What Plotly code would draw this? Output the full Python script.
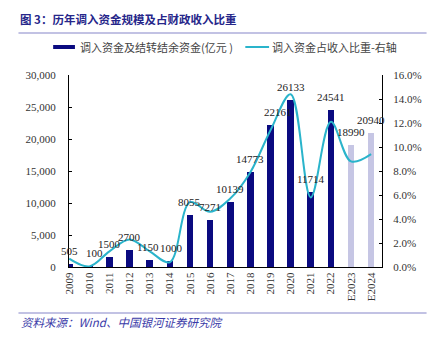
import plotly.graph_objects as go

# Transfer-in funds (100 million yuan) and share of fiscal revenue (%)
years = ["2009", "2010", "2011", "2012", "2013", "2014", "2015", "2016",
         "2017", "2018", "2019", "2020", "2021", "2022", "E2023", "E2024"]
funds = [505, 100, 1500, 2700, 1150, 1000, 8055, 7271,
         10139, 14773, 22161, 26133, 11714, 24541, 18990, 20940]
share = [0.7, 0.05, 1.3, 2.3, 1.3, 0.4, 5.4, 4.6,
         5.7, 7.9, 11.4, 14.4, 5.8, 12.1, 8.8, 9.4]

W, H = 434, 342
L, R, T, B = 69, 385, 75, 267  # plot area in pixels

NAVY = "#0a0a80"
LIGHT = "#c6c6e4"
CYAN = "#2ab4cb"
SERIF = "Liberation Serif, Times New Roman, serif"
CJK = "Noto Sans CJK SC, sans-serif"


def px_x(p):
    return (p - L) / (R - L)


def px_y(p):
    return (B - p) / (B - T)


bar_colors = [LIGHT if y.startswith("E") else NAVY for y in years]

fig = go.Figure()
fig.add_bar(x=years, y=funds, marker=dict(color=bar_colors, line_width=0),
            width=0.33, yaxis="y", showlegend=False)
fig.add_scatter(x=years, y=share, mode="lines", yaxis="y2", showlegend=False,
                line=dict(shape="spline", smoothing=1.0, color=CYAN, width=2))

annotations = []
# value labels above the bars (category index keeps year strings from
# being read as numbers)
label_nudge = {"2010": 5, "2013": -1.5, "2014": 1.5, "2019": 8}
for i, (yr, v) in enumerate(zip(years, funds)):
    annotations.append(dict(x=i, y=v, xref="x", yref="y", text=str(v),
                            showarrow=False, yshift=13,
                            xshift=label_nudge.get(yr, 0),
                            font=dict(family=SERIF, size=11, color="#222")))

# title
annotations.append(dict(x=px_x(18), y=px_y(19), xref="paper", yref="paper",
                        xanchor="left", yanchor="middle", showarrow=False,
                        text="<b>图 3：历年调入资金规模及占财政收入比重</b>",
                        font=dict(family=CJK, size=11.5, color="#26268a")))
# legend texts
annotations.append(dict(x=px_x(78), y=px_y(47), xref="paper", yref="paper",
                        xanchor="left", yanchor="middle", showarrow=False,
                        text="调入资金及结转结余资金(亿元 )",
                        font=dict(family=CJK, size=11, color="#444")))
annotations.append(dict(x=px_x(272), y=px_y(47), xref="paper", yref="paper",
                        xanchor="left", yanchor="middle", showarrow=False,
                        text="调入资金占收入比重-右轴",
                        font=dict(family=CJK, size=11, color="#444")))
# source note
annotations.append(dict(x=px_x(19), y=px_y(322), xref="paper", yref="paper",
                        xanchor="left", yanchor="middle", showarrow=False,
                        text="<i>资料来源：Wind、中国银河证券研究院</i>",
                        font=dict(family=CJK, size=11.5, color="#3a3aa8")))

shapes = [
    # rule under the title
    dict(type="line", xref="paper", yref="paper", x0=px_x(18), x1=px_x(430),
         y0=px_y(33), y1=px_y(33), line=dict(color="#8585c8", width=1)),
    # rule above the source note
    dict(type="line", xref="paper", yref="paper", x0=px_x(18), x1=px_x(430),
         y0=px_y(313), y1=px_y(313), line=dict(color="#8585c8", width=1)),
    # legend swatches
    dict(type="rect", xref="paper", yref="paper", x0=px_x(53), x1=px_x(75),
         y0=px_y(49), y1=px_y(45), fillcolor=NAVY, line_width=0),
    dict(type="line", xref="paper", yref="paper", x0=px_x(247), x1=px_x(271),
         y0=px_y(47), y1=px_y(47), line=dict(color=CYAN, width=2)),
]

axis_font = dict(family=SERIF, size=11, color="#333")

fig.update_layout(
    width=W, height=H,
    margin=dict(l=L, r=W - R, t=T, b=H - B, pad=0),
    paper_bgcolor="white", plot_bgcolor="white",
    bargap=0,
    xaxis=dict(type="category", range=[-0.01, 15.54], showline=True,
               linecolor="black", linewidth=1, ticks="", tickangle=-90,
               tickfont=axis_font, showgrid=False, zeroline=False),
    yaxis=dict(range=[0, 30000], dtick=5000, tickformat=",", showline=True,
               linecolor="black", linewidth=1, ticks="inside", ticklen=3,
               tickcolor="black", tickfont=axis_font, showgrid=False,
               zeroline=False, ticklabelstandoff=10),
    yaxis2=dict(range=[0, 16], dtick=2, tickformat=".1f", ticksuffix="%",
                overlaying="y", side="right", showline=True,
                linecolor="black", linewidth=1, ticks="inside", ticklen=3,
                tickcolor="black", tickfont=axis_font, showgrid=False,
                zeroline=False, ticklabelstandoff=8),
    annotations=annotations,
    shapes=shapes,
)

fig.write_html("out.html")
